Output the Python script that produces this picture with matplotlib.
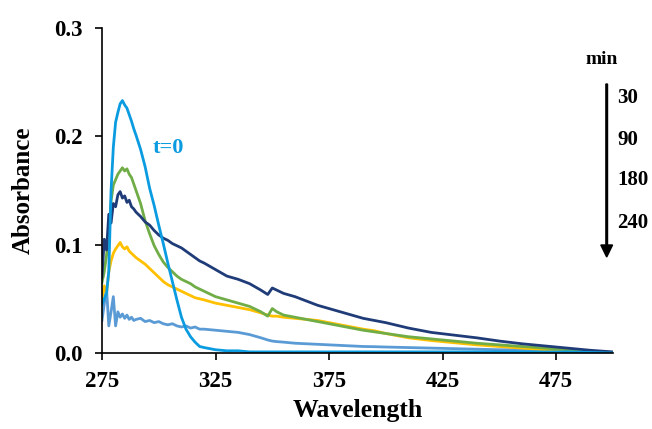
import matplotlib
matplotlib.use("Agg")
import matplotlib.pyplot as plt

plt.rcParams['font.family'] = ['Liberation Serif', 'DejaVu Serif']
plt.rcParams['font.weight'] = 'bold'

# wavelength grid (nm)
wavelength = [275, 276, 277, 278, 279, 280, 281, 282, 283, 284, 285, 286, 287, 288, 289,
              290, 292, 294, 296, 298, 300, 302, 304, 306, 308, 310, 312, 314, 316, 318,
              320, 325, 330, 335, 340, 345, 348, 350, 352, 355, 360, 365, 370, 375, 380,
              385, 390, 395, 400, 410, 420, 430, 440, 450, 460, 470, 480, 490, 500]

# absorbance spectra at each irradiation time
abs_t0 = [0.045, 0.050, 0.055, 0.075, 0.150, 0.190, 0.213, 0.222, 0.230, 0.233, 0.229, 0.226,
          0.220, 0.214, 0.207, 0.201, 0.188, 0.172, 0.152, 0.136, 0.118, 0.101, 0.083, 0.066,
          0.049, 0.033, 0.022, 0.015, 0.010, 0.006, 0.005, 0.003, 0.002, 0.002, 0.001, 0.001,
          0.001, 0.001, 0.001, 0.001, 0.001, 0.001, 0.001, 0.001, 0.001, 0.001, 0.001, 0.001,
          0.001, 0.001, 0.001, 0.001, 0.001, 0.001, 0.001, 0.001, 0.001, 0.0005, 0.0]
abs_30 = [0.065, 0.075, 0.090, 0.110, 0.140, 0.155, 0.160, 0.165, 0.168, 0.171, 0.168, 0.170,
          0.165, 0.162, 0.156, 0.150, 0.138, 0.122, 0.110, 0.099, 0.091, 0.084, 0.079, 0.075,
          0.071, 0.068, 0.066, 0.064, 0.061, 0.059, 0.057, 0.052, 0.049, 0.046, 0.043, 0.038,
          0.034, 0.041, 0.038, 0.035, 0.033, 0.031, 0.029, 0.027, 0.025, 0.023, 0.021, 0.0195,
          0.018, 0.015, 0.013, 0.011, 0.009, 0.0075, 0.006, 0.0045, 0.003, 0.0015, 0.0005]
abs_90 = [0.070, 0.105, 0.095, 0.128, 0.120, 0.138, 0.135, 0.146, 0.149, 0.143, 0.145, 0.139,
          0.141, 0.135, 0.133, 0.130, 0.126, 0.121, 0.118, 0.113, 0.109, 0.106, 0.104, 0.101,
          0.099, 0.097, 0.094, 0.091, 0.088, 0.085, 0.083, 0.077, 0.071, 0.068, 0.064, 0.058,
          0.054, 0.060, 0.058, 0.055, 0.052, 0.048, 0.044, 0.041, 0.038, 0.035, 0.032, 0.030,
          0.028, 0.023, 0.019, 0.0165, 0.014, 0.011, 0.0085, 0.0065, 0.0045, 0.0025, 0.001]
abs_180 = [0.050, 0.062, 0.055, 0.075, 0.085, 0.092, 0.096, 0.099, 0.102, 0.098, 0.096, 0.098,
           0.094, 0.092, 0.090, 0.088, 0.085, 0.082, 0.078, 0.074, 0.070, 0.066, 0.063, 0.061,
           0.059, 0.057, 0.055, 0.053, 0.051, 0.050, 0.049, 0.046, 0.044, 0.042, 0.040, 0.037,
           0.035, 0.034, 0.034, 0.033, 0.032, 0.031, 0.030, 0.028, 0.026, 0.024, 0.022, 0.0205,
           0.018, 0.014, 0.0115, 0.0095, 0.0075, 0.006, 0.0045, 0.003, 0.0015, 0.0008, 0.0003]
abs_240 = [0.030, 0.045, 0.060, 0.025, 0.038, 0.052, 0.025, 0.038, 0.033, 0.036, 0.032, 0.035,
           0.031, 0.033, 0.030, 0.031, 0.032, 0.029, 0.030, 0.028, 0.029, 0.027, 0.026, 0.027,
           0.025, 0.024, 0.025, 0.023, 0.024, 0.022, 0.022, 0.021, 0.020, 0.019, 0.017, 0.014,
           0.012, 0.011, 0.0105, 0.010, 0.009, 0.0085, 0.008, 0.0075, 0.007, 0.0065, 0.006, 0.0058,
           0.0055, 0.005, 0.0045, 0.004, 0.0035, 0.003, 0.003, 0.0025, 0.002, 0.001, 0.0005]

time_labels = ['30', '90', '180', '240']
x_ticks = [275, 325, 375, 425, 475]
y_ticks = [0.0, 0.1, 0.2, 0.3]

fig = plt.figure(figsize=(6.52, 4.29), dpi=100)
ax = fig.add_axes([0.1564, 0.1772, 0.7836, 0.7575])

lw = 2.0
ax.plot(wavelength, abs_240, color='#5B9BD5', lw=lw)
ax.plot(wavelength, abs_180, color='#FFC000', lw=lw)
ax.plot(wavelength, abs_30, color='#70AD47', lw=lw)
ax.plot(wavelength, abs_90, color='#1F3C78', lw=lw)
ax.plot(wavelength, abs_t0, color='#0A9BE0', lw=lw)

ax.set_xlim(275, 500)
ax.set_ylim(0, 0.3)
ax.set_xticks(x_ticks)
ax.set_yticks(y_ticks)
ax.set_yticklabels([f'{v:.1f}' for v in y_ticks])

for side in ['top', 'right']:
    ax.spines[side].set_visible(False)
for side in ['left', 'bottom']:
    ax.spines[side].set_linewidth(1.2)

ax.tick_params(axis='both', direction='out', length=5, width=1.2, labelsize=16.5)
ax.tick_params(axis='y', pad=9)
ax.tick_params(axis='x', pad=8)

ax.set_xlabel('Wavelength', fontsize=18.5, fontweight='bold', labelpad=5)
ax.set_ylabel('Absorbance', fontsize=18, fontweight='bold', labelpad=14)

ax.text(304, 0.189, 't=0', color='#0A9BE0', fontsize=16, fontweight='bold',
        ha='center', va='center')

# time legend: label, downward arrow and times
fig.text(601.7 / 652, 1 - 60 / 429, 'min', fontsize=14, fontweight='bold',
         ha='center', va='center')
fig.patches.append(matplotlib.patches.FancyArrow(
    606.7 / 652, 1 - 84 / 429, 0, -(257 - 84) / 429, width=0.0025,
    head_width=0.018, head_length=0.028, length_includes_head=True,
    color='black', transform=fig.transFigure, figure=fig))
for lab, yy in zip(time_labels, [98, 140, 180, 223]):
    fig.text(617 / 652, 1 - yy / 429, lab, fontsize=15, fontweight='bold',
             ha='left', va='center')

fig.savefig('out.png', dpi=100)
